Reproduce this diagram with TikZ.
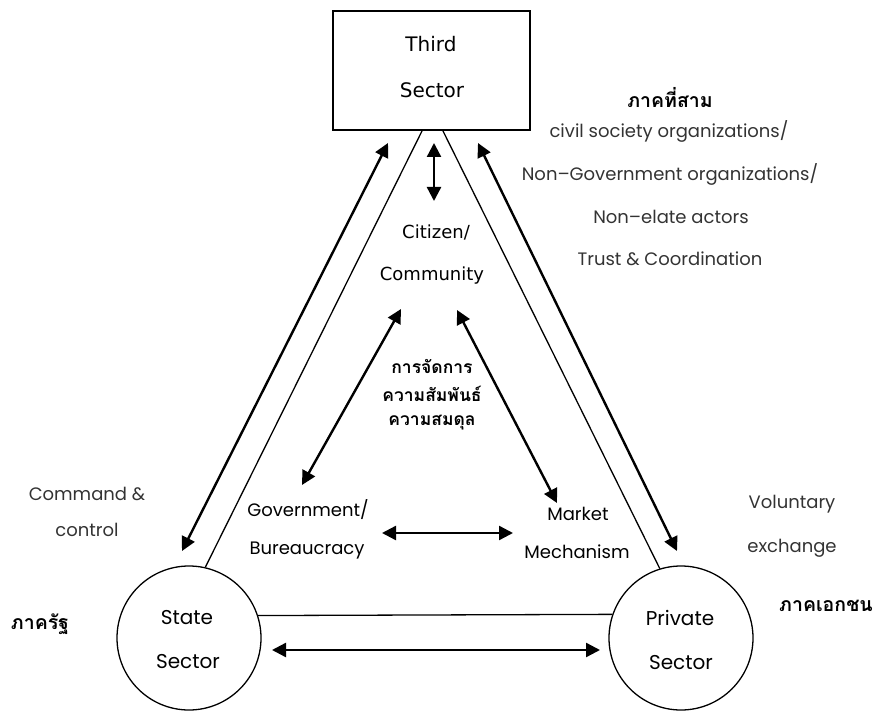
\documentclass[tikz,border=0pt]{standalone}
\usepackage{fontspec}
\setmainfont{Poppins}
\newfontfamily\dejavu{DejaVu Sans}
\newfontfamily\thaifont[Script=Thai]{Loma}
\usetikzlibrary{arrows.meta}
\definecolor{txtgray}{HTML}{333333}
\tikzset{
  thinline/.style={line width=1.3pt},
  bigarrow/.style={line width=2.4pt,{Triangle[length=14pt,width=14pt]}-{Triangle[length=14pt,width=14pt]}},
  lbl/.style={font=\fontsize{18}{20}\selectfont,inner sep=0pt},
  clbl/.style={font=\fontsize{20}{22}\selectfont,inner sep=0pt},
  dlbl/.style={font=\dejavu\fontsize{18}{20}\selectfont,inner sep=0pt},
  tdlbl/.style={font=\dejavu\fontsize{20}{22}\selectfont,inner sep=0pt},
  glbl/.style={font=\fontsize{18}{20}\selectfont,text=txtgray,inner sep=0pt},
  tlbl/.style={font=\thaifont\bfseries\fontsize{19.5}{22}\selectfont,inner sep=0pt},
  tclbl/.style={font=\thaifont\bfseries\fontsize{17.5}{20}\selectfont,inner sep=0pt},
  sectorcircle/.style={circle,draw,line width=1.3pt,minimum size=144pt,inner sep=0pt},
}
\begin{document}
\begin{tikzpicture}[x=1pt,y=-1pt]
\useasboundingbox (0,0) rectangle (875,711);
% Third sector box
\node[draw,line width=1.3pt,minimum width=197pt,minimum height=119pt,inner sep=0pt] (third) at (431.5,70.5) {};
\node[tdlbl] (thirdA) at (431,44) {Third};
\node[tdlbl] (thirdB) at (432,90) {Sector};
% circles
\node[sectorcircle] (state) at (189,638) {};
\node[sectorcircle] (private) at (681,638) {};
\node[clbl] (stateA) at (187,618) {State};
\node[clbl] (stateB) at (188,662) {Sector};
\node[clbl] (privA) at (680,618) {Private};
\node[clbl] (privB) at (681,663) {Sector};
% thin triangle lines
\coordinate (tl) at (422,131);
\coordinate (tr) at (443,131);
\draw[thinline] (tl) -- (state.77);
\draw[thinline] (tr) -- (private.107);
\draw[thinline] (state.18.6) -- (private.161.4);
% big arrows
\coordinate (la1) at (388,143);
\coordinate (la2) at (182,551);
\coordinate (ra1) at (478,143);
\coordinate (ra2) at (677,551);
\draw[bigarrow] (la1) -- (la2);
\draw[bigarrow] (ra1) -- (ra2);
\coordinate (ba1) at (272,650);
\coordinate (ba2) at (600,650);
\draw[bigarrow] (ba1) -- (ba2);
% citizen
\node[dlbl] (citA) at (436,232) {Citizen/};
\node[dlbl] (citB) at (432,276) {Community};
\coordinate (va1) at (434,143);
\coordinate (va2) at (434,201);
\draw[bigarrow] (va1) -- (va2);
% center thai
\node[tclbl] (thA) at (432,366) {การจัดการ};
\node[tclbl] (thB) at (432,394) {ความสัมพันธ์};
\node[tclbl] (thC) at (432,423) {ความสมดุล};
% government / market
\node[lbl] (govA) at (308,510) {Government/};
\node[lbl] (govB) at (307,551) {Bureaucracy};
\node[lbl] (mkA) at (578,514) {Market};
\node[lbl] (mkB) at (577,552) {Mechanism};
\coordinate (ca1) at (401,309);
\coordinate (ca2) at (302,485);
\coordinate (cb1) at (457,310);
\coordinate (cb2) at (557,503);
\draw[bigarrow] (ca1) -- (ca2);
\draw[bigarrow] (cb1) -- (cb2);
\coordinate (ha1) at (382,533);
\coordinate (ha2) at (513,533);
\draw[bigarrow] (ha1) -- (ha2);
% side labels
\node[tlbl] (thaiThird) at (670,98) {ภาคที่สาม};
\node[glbl] (r1) at (669,131) {civil society organizations/};
\node[glbl] (r2) at (670,174) {Non–Government organizations/};
\node[glbl] (r3) at (671,217) {Non–elate actors};
\node[glbl] (r4) at (670,259) {Trust \& Coordination};
\node[glbl] (cmdA) at (87,494) {Command \&};
\node[glbl] (cmdB) at (87,530) {control};
\node[glbl] (volA) at (792,504) {Voluntary};
\node[glbl] (volB) at (792,548) {exchange};
\node[tlbl] (thaiState) at (40,624) {ภาครัฐ};
\node[tlbl] (thaiPriv) at (826,606) {ภาคเอกชน};
\end{tikzpicture}
\end{document}
